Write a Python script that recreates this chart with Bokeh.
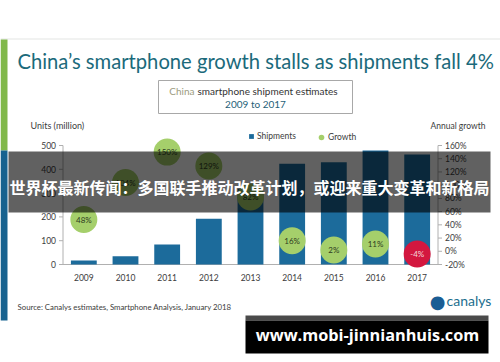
from bokeh.plotting import figure
from bokeh.models import Range1d, FactorRange, Label, BoxAnnotation, Legend, LegendItem
from bokeh.core.properties import value
from bokeh.embed import file_html
from bokeh.resources import INLINE

# ---------------- data ----------------
years = ["2009", "2010", "2011", "2012", "2013", "2014", "2015", "2016", "2017"]
shipments = [17, 35, 84, 192, 318, 423, 430, 479, 462]          # million units
growth = [48, 104, 150, 129, 82, 16, 2, 11, -4]                  # % annual growth
growth_labels = [f"{g}%" for g in growth]
units_ticks = [0, 100, 200, 300, 400, 500]
growth_ticks = [-20, 0, 20, 40, 60, 80, 100, 120, 140, 160]

# ---------------- geometry (page pixels) ----------------
W, H = 500, 362
CL, CR = 62.5, 437.5        # chart area left / right
CT, CB = 145, 264           # page y of top tick / baseline
PXF = (CR - CL) / len(years)                 # pixels per category
pad = CL / PXF

u_per_px = (units_ticks[-1] - units_ticks[0]) / (CB - CT)
g_per_px = (growth_ticks[-1] - growth_ticks[0]) / (CB - CT)
u_rng = Range1d(units_ticks[0] - (H - CB) * u_per_px, units_ticks[-1] + CT * u_per_px)
g_rng = Range1d(growth_ticks[0] - (H - CB) * g_per_px, growth_ticks[-1] + CT * g_per_px)

BAR = "#1c6b9b"
GREEN = "#a5cf6b"
RED = "#d3173f"
TXT = "#3c3c3c"
AXC = "#b0b0b0"
FONT = "Lato"

p = figure(width=W, height=H,
           x_range=FactorRange(*years, range_padding=pad, range_padding_units="absolute"),
           y_range=u_rng, output_backend="svg", toolbar_location=None,
           x_axis_location=None, y_axis_location=None, min_border=0,
           background_fill_color="white", border_fill_color="white",
           outline_line_color=None)
p.xgrid.visible = False
p.ygrid.visible = False
p.extra_y_ranges = {"growth": g_rng}


def sx(px):
    return px


def sy(py):
    return H - py


def box(l, t, r, b, fill, alpha=1.0, line=None):
    p.add_layout(BoxAnnotation(left=sx(l), right=sx(r), top=sy(t), bottom=sy(b),
                               left_units="screen", right_units="screen",
                               top_units="screen", bottom_units="screen",
                               fill_color=fill, fill_alpha=alpha,
                               line_color=line, line_alpha=1.0 if line else 0))


def lab(text, px, py, size, color=TXT, align="left", font=FONT, style="normal"):
    p.add_layout(Label(x=sx(px), y=sy(py), x_units="screen", y_units="screen",
                       text=text, text_font=font, text_font_size=f"{size}px",
                       text_color=color, text_align=align, text_baseline="middle",
                       text_font_style=style))


# page decoration behind the chart
box(0, 38, W, 39, "#e4e6e4")
box(0, 39, 7, 150, "#80b84a")
box(0, 150, 7, 320, "#17628f")

# ---------------- axes (drawn on the chart's own scales) ----------------
x_left, x_right = 0, len(years)
tick = 4 / PXF
std = 7 / PXF
# left (units)
p.segment(x0=[x_left], y0=[units_ticks[0]], x1=[x_left], y1=[units_ticks[-1]],
          line_color=AXC, line_width=1)
p.segment(x0=[x_left - tick] * len(units_ticks), y0=units_ticks,
          x1=[x_left] * len(units_ticks), y1=units_ticks, line_color=AXC)
p.text(x=[x_left - std] * len(units_ticks), y=units_ticks,
       text=[str(t) for t in units_ticks], text_font=value(FONT),
       text_font_size="8.5px", text_color=TXT, text_align="right", text_baseline="middle")
# right (growth)
p.segment(x0=[x_right], y0=[growth_ticks[0]], x1=[x_right], y1=[growth_ticks[-1]],
          line_color=AXC, y_range_name="growth")
p.segment(x0=[x_right] * len(growth_ticks), y0=growth_ticks,
          x1=[x_right + tick] * len(growth_ticks), y1=growth_ticks,
          line_color=AXC, y_range_name="growth")
p.text(x=[x_right + std] * len(growth_ticks), y=growth_ticks,
       text=[f"{t}%" for t in growth_ticks], text_font=value(FONT),
       text_font_size="8.5px", text_color=TXT, text_align="left", text_baseline="middle",
       y_range_name="growth")
# bottom (years)
p.segment(x0=[x_left], y0=[units_ticks[0]], x1=[x_right], y1=[units_ticks[0]],
          line_color=AXC)
p.text(x=years, y=[units_ticks[0]] * len(years), text=years, y_offset=13,
       text_font=value(FONT), text_font_size="8.5px", text_color=TXT,
       text_align="center", text_baseline="middle")

# ---------------- marks ----------------
bars = p.vbar(x=years, top=shipments, bottom=0, width=0.62, fill_color=BAR, line_color=None)
dot_colors = [RED if g < 0 else GREEN for g in growth]
lbl_colors = ["#f3d6dc" if g < 0 else "#2e3a1e" for g in growth]
dots = p.scatter(x=years, y=growth, size=27, fill_color=dot_colors, line_color=None,
                 y_range_name="growth")
p.text(x=years, y=growth, text=growth_labels, y_range_name="growth",
       text_font=value(FONT), text_font_size="8px", text_color=lbl_colors,
       text_align="center", text_baseline="middle")

# legends
leg1 = Legend(items=[LegendItem(label="Shipments", renderers=[bars])],
              location=(sx(248), sy(141)), orientation="horizontal",
              glyph_width=6, glyph_height=6, label_height=8, label_standoff=3,
              padding=0, margin=0, spacing=0, border_line_color=None,
              background_fill_alpha=0, label_text_font=FONT,
              label_text_font_size="8.5px", label_text_color=TXT)
leg2 = Legend(items=[LegendItem(label="Growth", renderers=[dots], index=0)],
              location=(sx(314), sy(144)), orientation="horizontal",
              glyph_width=14, glyph_height=14, label_height=8, label_standoff=0,
              padding=0, margin=0, spacing=0, border_line_color=None,
              background_fill_alpha=0, label_text_font=FONT,
              label_text_font_size="8.5px", label_text_color=TXT)
p.add_layout(leg1, "center")
p.add_layout(leg2, "center")

# title & subtitle box
lab("China\u2019s smartphone growth stalls as shipments fall 4%", 17, 60, 20.2, color="#1b6a7b")
box(158, 80, 352, 113, "white", line="#a8a8a8")
lab("China", 194, 90, 10, color="#9c9c80", align="right")
lab("smartphone shipment estimates", 197, 90, 10, color="#333333")
lab("2009 to 2017", 255, 103, 10, color="#1f5f78", align="center")

# axis titles
lab("Units (million)", 30, 125, 9, color=TXT)
lab("Annual growth", 430, 125, 8.5, color=TXT)

# footer
lab("Source: Canalys estimates, Smartphone Analysis, January 2018", 17, 306, 7.8, color=TXT)
lab("\u25cf", 437, 301, 18, color="#1a5d94", align="center", font="DejaVu Sans")
lab("canalys", 446, 300, 14, color="#1c6e8e")

# dark overlay band with headline
box(8, 151, 490, 212, "black", alpha=0.62)
lab("世界杯最新传闻：多国联手推动改革计划，或迎来重大变革和新格局", 249, 186, 16,
    color="white", align="center", font="Noto Sans CJK SC", style="bold")

# watermark
box(245, 315, 488, 320, "#4a4a4a")
box(245, 320, 488, 353, "black")
lab("www.mobi-jinnianhuis.com", 367, 334, 16.3, color="white", align="center",
    font="Open Sans", style="bold")

open("out.html", "w").write(file_html(p, INLINE))
